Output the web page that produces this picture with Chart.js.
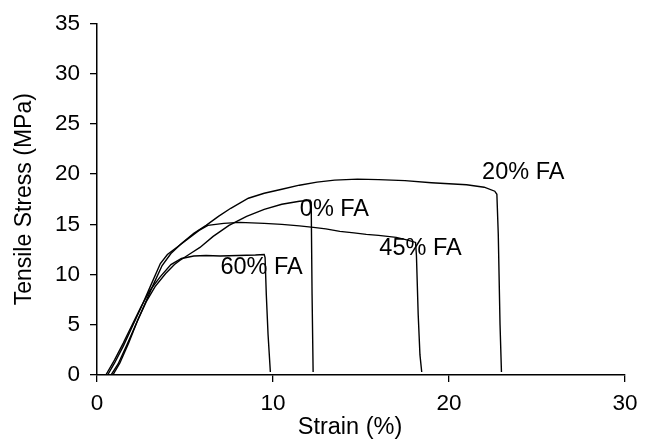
<!DOCTYPE html>
<html>
<head>
<meta charset="utf-8">
<title>Tensile stress–strain curves</title>
<script src="https://cdn.jsdelivr.net/npm/chart.js@4.4.1/dist/chart.umd.min.js"></script>
<style>
  html, body { margin: 0; padding: 0; background: #ffffff; }
  canvas { display: block; }
</style>
</head>
<body>
<canvas id="chart" width="646" height="442"></canvas>
<script>
// Stress–strain curves for each fly ash (FA) content
const strain0  = [0.9, 1.3, 1.8, 2.3, 2.8, 3.3, 3.9, 4.4, 4.7, 5.4, 5.85, 6.6, 7.5, 8.5, 9.5, 10.5, 11.5, 12.1, 12.17, 12.22, 12.28];
const stress0  = [0, 1.2, 3.2, 5.4, 7.3, 8.8, 10.1, 11.0, 11.4, 12.2, 12.7, 13.8, 14.9, 15.8, 16.5, 17.0, 17.3, 17.4, 17.2, 8.0, 0.3];

const strain20 = [0.8, 1.2, 1.7, 2.2, 2.7, 3.2, 3.7, 4.2, 4.8, 5.5, 6.2, 6.9, 7.6, 8.6, 9.5, 10.5, 11.5, 12.5, 13.5, 14.8, 16.0, 17.5, 19.0, 20.0, 21.0, 22.0, 22.6, 22.72, 22.8, 22.9, 22.98];
const stress20 = [0, 1.1, 3.0, 5.0, 7.0, 9.0, 10.9, 12.1, 13.1, 14.1, 14.9, 15.8, 16.6, 17.6, 18.1, 18.5, 18.9, 19.2, 19.4, 19.5, 19.45, 19.35, 19.15, 19.05, 18.95, 18.7, 18.3, 18.0, 14.0, 5.0, 0.3];

const strain45 = [0.6, 1.0, 1.5, 2.0, 2.5, 3.0, 3.6, 4.0, 4.6, 5.2, 5.8, 6.3, 7.2, 8.1, 9.5, 10.5, 11.5, 12.3, 13.0, 13.8, 14.6, 15.3, 16.0, 17.0, 17.6, 18.1, 18.15, 18.25, 18.35, 18.45];
const stress45 = [0, 1.2, 2.9, 4.8, 6.7, 8.7, 11.1, 12.0, 12.8, 13.6, 14.4, 14.9, 15.1, 15.2, 15.1, 15.0, 14.85, 14.7, 14.55, 14.3, 14.15, 14.0, 13.9, 13.7, 13.45, 13.2, 11.9, 6.0, 2.0, 0.3];

const strain60 = [0.5, 1.0, 1.5, 2.0, 2.5, 3.0, 3.6, 4.2, 4.8, 5.5, 6.2, 7.0, 8.0, 9.0, 9.5, 9.55, 9.62, 9.72, 9.85];
const stress60 = [0, 1.5, 3.2, 5.0, 6.8, 8.4, 9.8, 11.0, 11.6, 11.85, 11.9, 11.85, 11.9, 11.95, 12.0, 11.7, 8.0, 4.0, 0.3];

// Curve labels and where they sit, in strain / stress units
const curveLabels  = ['20% FA', '0% FA', '45% FA', '60% FA'];
const labelStrain  = [24.22, 13.49, 18.38, 9.35];
const labelStress  = [20.19, 16.46, 12.61, 10.73];

// Axis settings
const strainTicks = { min: 0, max: 30, step: 10 };
const stressTicks = { min: 0, max: 35, step: 5 };
const strainTitle = 'Strain (%)';
const stressTitle = 'Tensile Stress (MPa)';

const FONT = "'Liberation Sans', Arial, Helvetica, sans-serif";

function toPoints(xs, ys) {
  return xs.map((x, i) => ({ x: x, y: ys[i] }));
}

function curve(xs, ys) {
  return {
    data: toPoints(xs, ys),
    showLine: true,
    borderColor: '#000000',
    borderWidth: 1.4,
    pointRadius: 0,
    pointHoverRadius: 0,
    tension: 0,
    fill: false
  };
}

// Curve names written next to each curve, plus the strain axis title
// (set a little left of the plot centre)
const textPlugin = {
  id: 'curveText',
  afterDatasetsDraw(chart) {
    const ctx = chart.ctx;
    const xs = chart.scales.x, ys = chart.scales.y;
    ctx.save();
    ctx.fillStyle = '#000000';
    ctx.font = '23.5px ' + FONT;
    ctx.textAlign = 'center';
    ctx.textBaseline = 'middle';
    curveLabels.forEach((t, i) => {
      ctx.fillText(t, xs.getPixelForValue(labelStrain[i]), ys.getPixelForValue(labelStress[i]));
    });
    const area = chart.chartArea;
    ctx.fillText(strainTitle, (area.left + area.right) / 2 - 11, xs.bottom - 14);
    ctx.restore();
  }
};

new Chart(document.getElementById('chart'), {
  type: 'scatter',
  data: {
    datasets: [
      curve(strain0, stress0),
      curve(strain20, stress20),
      curve(strain45, stress45),
      curve(strain60, stress60)
    ]
  },
  options: {
    responsive: false,
    animation: false,
    events: [],
    layout: { padding: { top: 21, right: 21, bottom: 0, left: 0 } },
    plugins: {
      legend: { display: false },
      tooltip: { enabled: false },
      title: { display: false }
    },
    scales: {
      x: {
        type: 'linear',
        position: 'bottom',
        min: strainTicks.min,
        max: strainTicks.max,
        ticks: {
          stepSize: strainTicks.step,
          color: '#000000',
          font: { family: FONT, size: 22.5 },
          padding: 8,
          maxRotation: 0
        },
        grid: {
          drawOnChartArea: false,
          drawTicks: true,
          tickLength: 7,
          color: '#000000',
          lineWidth: 1.3
        },
        border: { display: true, color: '#000000', width: 1.5 },
        title: { display: false },
        afterFit(scale) { scale.height = 67; }
      },
      y: {
        type: 'linear',
        position: 'left',
        min: stressTicks.min,
        max: stressTicks.max,
        ticks: {
          stepSize: stressTicks.step,
          color: '#000000',
          font: { family: FONT, size: 22.5 },
          padding: 10
        },
        grid: {
          drawOnChartArea: false,
          drawTicks: true,
          tickLength: 7,
          color: '#000000',
          lineWidth: 1.3
        },
        border: { display: true, color: '#000000', width: 1.5 },
        title: {
          display: true,
          text: stressTitle,
          color: '#000000',
          font: { family: FONT, size: 23 },
          padding: { top: 11, bottom: 0 }
        },
        afterFit(scale) { scale.width = 97; }
      }
    }
  },
  plugins: [textPlugin]
});
</script>
</body>
</html>
